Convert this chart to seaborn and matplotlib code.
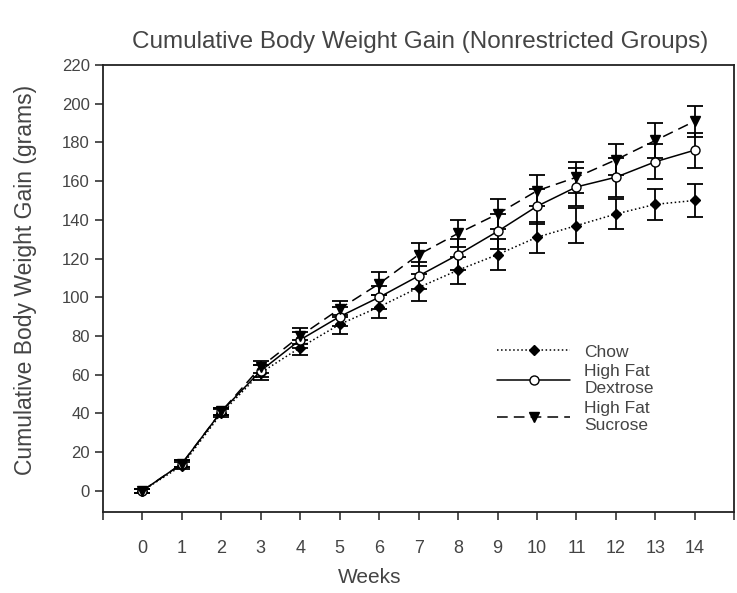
import pandas as pd
import numpy as np
import matplotlib
matplotlib.use("Agg")
import matplotlib.pyplot as plt
import seaborn as sns

# values
weeks = list(range(0, 15))
chow = [0, 13, 40, 61, 74, 86, 95, 105, 114, 122, 131, 137, 143, 148, 150]
chow_err = [1, 2, 2, 4, 4, 5, 6, 7, 7, 8, 8, 9, 8, 8, 8.5]
dextrose = [0, 14, 41, 62, 78, 90, 100, 111, 122, 134, 147, 157, 162, 170, 176]
dextrose_err = [1, 2, 2, 3, 4, 5, 6, 7, 8, 9, 9, 10, 10, 9, 9]
sucrose = [0, 14, 41, 64, 80, 94, 107, 122, 133, 143, 155, 162, 171, 181, 191]
sucrose_err = [1, 2, 2, 3, 4, 4, 6, 6, 7, 8, 8, 8, 8, 9, 8]

labels = ["Chow", "High Fat\nDextrose", "High Fat\nSucrose"]
yticks = list(range(0, 221, 20))
xticks = list(range(-1, 16))

sns.set_style("ticks")
plt.rcParams["font.family"] = ["Liberation Sans", "DejaVu Sans"]
txt = "#444444"

df = pd.DataFrame({"Weeks": weeks, "chow": chow, "dex": dextrose, "suc": sucrose})

fig = plt.figure(figsize=(7.37, 5.93), dpi=100)
ax = fig.add_axes([0.1398, 0.1366, 0.8565, 0.7538])

groups = [
    ("chow", chow_err, ":", "D", "black", 5.5),
    ("dex", dextrose_err, "-", "o", "white", 6.5),
    ("suc", sucrose_err, (0, (7, 4)), "v", "black", 7.5),
]
for (col, err, ls, mk, mfc, ms), lab in zip(groups, labels):
    sns.lineplot(data=df, x="Weeks", y=col, ax=ax, color="black", linestyle=ls,
                 linewidth=1.1, marker=mk, markerfacecolor=mfc, markeredgecolor="black",
                 markeredgewidth=1.0, markersize=ms, label=lab, zorder=3)
    ax.errorbar(df["Weeks"], df[col], yerr=err, fmt="none", ecolor="black",
                elinewidth=1.3, capsize=6, capthick=1.3, zorder=2)

ax.set_xlim(-1, 15)
ax.set_ylim(-11, 220)
ax.set_xticks(xticks)
ax.set_xticklabels(["" if (w < 0 or w > 14) else str(w) for w in xticks])
ax.set_yticks(yticks)
ax.tick_params(axis="both", direction="out", length=6, width=1.1, colors="#222222",
               labelcolor=txt)
ax.tick_params(axis="x", pad=14, labelsize=13)
ax.tick_params(axis="y", labelsize=12)
for s in ax.spines.values():
    s.set_visible(True)
    s.set_linewidth(1.3)
    s.set_color("#222222")

ax.set_xlabel("Weeks", fontsize=15, color=txt)
ax.xaxis.set_label_coords(0.423, -0.125)
ax.set_ylabel("Cumulative Body Weight Gain (grams)", fontsize=16.5, color=txt)
ax.yaxis.set_label_coords(-0.105, 0.52)
fig.text(0.57, 0.93, "Cumulative Body Weight Gain (Nonrestricted Groups)",
         ha="center", va="center", fontsize=17.5, color=txt)

handles, lbls = ax.get_legend_handles_labels()
leg = ax.legend(handles, lbls, loc="upper left", bbox_to_anchor=(0.6, 0.41),
                frameon=False, fontsize=12.5, handlelength=4.2, labelspacing=0.25,
                handletextpad=0.8, labelcolor=txt)

fig.savefig("out.png", dpi=100)
